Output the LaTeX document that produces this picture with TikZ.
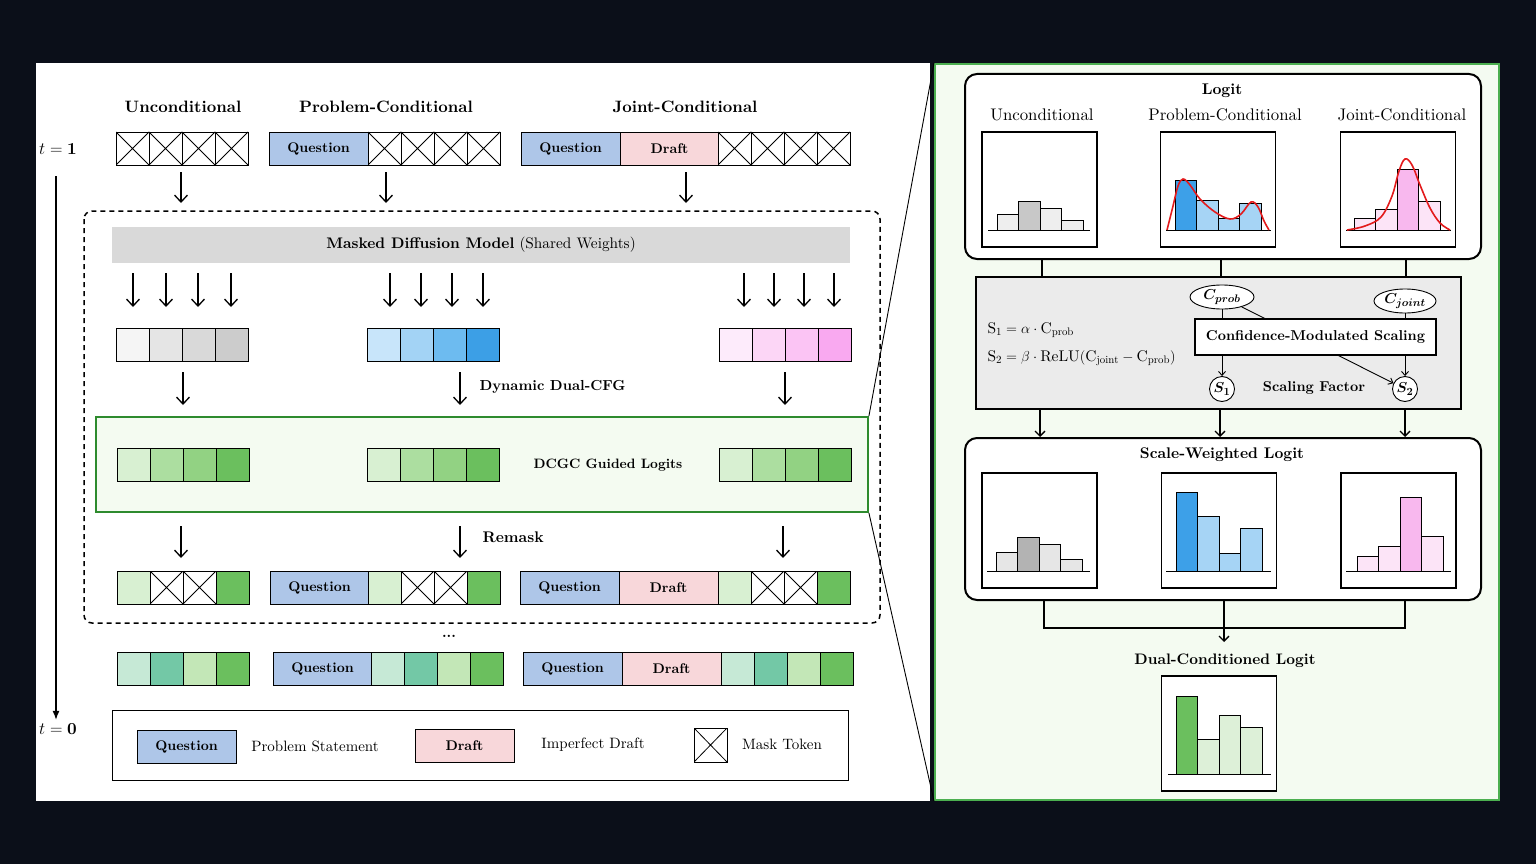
\documentclass[tikz,border=0pt]{standalone}
\usepackage{amsmath}
\usepackage{fontspec}
\setmainfont{lmroman10-regular.otf}[BoldFont=lmroman10-bold.otf, ItalicFont=lmroman10-italic.otf, BoldItalicFont=lmroman10-bolditalic.otf]
\usetikzlibrary{arrows.meta,positioning,calc,shapes.geometric}

\definecolor{bgdark}{HTML}{0B0F19}
\definecolor{qblue}{HTML}{AEC6E8}
\definecolor{dpink}{HTML}{F8D7DA}
\definecolor{barg}{HTML}{D9D9D9}
\definecolor{pfill}{HTML}{F4FBF1}
\definecolor{pgreen}{HTML}{4CAF50}
\definecolor{dgreen}{HTML}{2E8B2E}
\definecolor{confg}{HTML}{EBEBEB}
\definecolor{gy1}{HTML}{F5F5F5}
\definecolor{gy2}{HTML}{E5E5E5}
\definecolor{gy3}{HTML}{D9D9D9}
\definecolor{gy4}{HTML}{CCCCCC}
\definecolor{bl1}{HTML}{C8E5FA}
\definecolor{bl2}{HTML}{A3D3F5}
\definecolor{bl3}{HTML}{6DBBF0}
\definecolor{bl4}{HTML}{3C9FE6}
\definecolor{pk1}{HTML}{FDEBFB}
\definecolor{pk2}{HTML}{FCD6F6}
\definecolor{pk3}{HTML}{FBC4F4}
\definecolor{pk4}{HTML}{F9A9F0}
\definecolor{gn1}{HTML}{D8F0D2}
\definecolor{gn2}{HTML}{ACDEA0}
\definecolor{gn3}{HTML}{92D283}
\definecolor{gn4}{HTML}{6BBF5E}
\definecolor{fn1}{HTML}{C6E9D6}
\definecolor{fn2}{HTML}{73C8A6}
\definecolor{fn3}{HTML}{C3E7B7}
\definecolor{hgl}{HTML}{EEEEEE}
\definecolor{hgd}{HTML}{C8C8C8}
\definecolor{hsl}{HTML}{E6E6E6}
\definecolor{hsd}{HTML}{B3B3B3}
\definecolor{hbd}{HTML}{3DA0E8}
\definecolor{hbl}{HTML}{A6D4F5}
\definecolor{hpl}{HTML}{FCE4F7}
\definecolor{hpd}{HTML}{F8B8EE}
\definecolor{hdl}{HTML}{DDF0D8}
\definecolor{curvered}{HTML}{E31A1C}

\tikzset{
  cell/.style={draw, line width=0.9pt, minimum width=33pt, minimum height=33pt,
    inner sep=0pt, outer sep=0pt, anchor=north west},
  maskc/.style={cell, fill=white, path picture={
    \draw[line width=0.8pt] (path picture bounding box.south west) -- (path picture bounding box.north east)
      (path picture bounding box.north west) -- (path picture bounding box.south east);}},
  lgc/.style={cell, fill=gn1},
  dgc/.style={cell, fill=gn4},
  qbox/.style={cell, minimum width=99pt, fill=qblue, font=\fontsize{14}{17}\selectfont\bfseries},
  dbox/.style={qbox, fill=dpink},
  hdr/.style={font=\fontsize{16.5}{20}\selectfont\bfseries},
  lbl/.style={font=\fontsize{14.5}{17}\selectfont\bfseries},
  txt/.style={font=\fontsize{15}{18}\selectfont},
  sub/.style={font=\fontsize{16.8}{20}\selectfont},
  arr/.style={-{Straight Barb[length=7pt,width=13pt]}, line width=1.3pt},
  sarr/.style={-{Straight Barb[length=4pt,width=7pt]}, line width=0.9pt},
  rbox/.style={draw, fill=white, line width=2pt, rounded corners=12pt},
  hbox/.style={draw, fill=white, line width=1.3pt, minimum width=115pt, minimum height=115pt},
  bar/.style={draw, line width=0.9pt},
  base/.style={line width=1pt},
  curve/.style={curvered, line width=1.6pt},
}

\begin{document}
\begin{tikzpicture}[x=1pt, y=-1pt]
% panels
\fill[bgdark] (0,0) rectangle (1536,864);
\node[fill=white, minimum width=894pt, minimum height=738pt, inner sep=0pt] (lp) at (483,432) {};
\node[draw=pgreen, line width=2pt, fill=pfill, minimum width=564pt, minimum height=736pt, inner sep=0pt] (rp) at (1217,432) {};

% time axis
\node[sub] (t1) at (58,149) {$t = \mathbf{1}$};
\node[sub] (t0) at (58,729) {$t = \mathbf{0}$};
\draw[-{Latex[length=9pt,width=7pt]}, line width=1.3pt] ([xshift=-2pt,yshift=-18pt]t1.south) -- ([xshift=-2pt]t0.north);

% column titles
\node[hdr] at (183,107) {Unconditional};
\node[hdr] at (386,107) {Problem-Conditional};
\node[hdr] at (685,107) {Joint-Conditional};

% t = 1 inputs
\foreach \i in {0,...,3} \node[maskc] (ua\i) at (116+33*\i,132) {};
\node[qbox] (pq) at (269,132) {Question};
\foreach \i in {0,...,3} \node[maskc] (pa\i) at (368+33*\i,132) {};
\node[qbox] (jq) at (521,132) {Question};
\node[dbox] (jd) at (620,132) {Draft};
\foreach \i in {0,...,3} \node[maskc] (ja\i) at (718+33*\i,132) {};
\foreach \x in {181,386,686} \draw[arr] (\x,172) -- (\x,203);

% one denoising step
\draw[line width=1.5pt, dash pattern=on 5pt off 4pt, rounded corners=8pt] (84,211) rectangle (880,623);
\node[fill=barg, minimum width=738pt, minimum height=36pt, inner sep=0pt, font=\fontsize{15.3}{18}\selectfont] (mdm) at (481,245)
  {\textbf{Masked Diffusion Model} (Shared Weights)};
\foreach \x in {133,166,198,231,390,421,452,483,744,774,804,834} \draw[arr] (\x,273) -- (\x,307);

\foreach \c [count=\i from 0] in {gy1,gy2,gy3,gy4} \node[cell, fill=\c] (um\i) at (116+33*\i,328) {};
\foreach \c [count=\i from 0] in {bl1,bl2,bl3,bl4} \node[cell, fill=\c] (pm\i) at (367+33*\i,328) {};
\foreach \c [count=\i from 0] in {pk1,pk2,pk3,pk4} \node[cell, fill=\c] (jm\i) at (719+33*\i,328) {};
\foreach \x in {183,460,785} \draw[arr] (\x,372) -- (\x,405);
\node[lbl, anchor=west] (cfg) at (476,387) {Dynamic Dual-CFG};

\node[draw=dgreen, line width=1.8pt, fill=pfill, minimum width=772pt, minimum height=95pt, inner sep=0pt] (dcgc) at (482,464.5) {};
\foreach \c [count=\i from 0] in {gn1,gn2,gn3,gn4} {
  \node[cell, fill=\c] (ug\i) at (117+33*\i,448) {};
  \node[cell, fill=\c] (pg\i) at (367+33*\i,448) {};
  \node[cell, fill=\c] (jg\i) at (719+33*\i,448) {};
}
\node[lbl, font=\fontsize{13.6}{16}\selectfont\bfseries] (dgl) at (608,465) {DCGC Guided Logits};

\foreach \x in {181,460,783} \draw[arr] (\x,526) -- (\x,558);
\node[lbl, font=\fontsize{15.4}{18}\selectfont\bfseries, anchor=west] (rmk) at (479,537) {Remask};

\foreach \x/\s in {117/lgc,150/maskc,183/maskc,216/dgc} \node[\s] (ur\x) at (\x,571) {};
\node[qbox] (prq) at (270,571) {Question};
\foreach \x/\s in {368/lgc,401/maskc,434/maskc,467/dgc} \node[\s] (pr\x) at (\x,571) {};
\node[qbox] (jrq) at (520,571) {Question};
\node[dbox] (jrd) at (619,571) {Draft};
\foreach \x/\s in {718/lgc,751/maskc,784/maskc,817/dgc} \node[\s] (jr\x) at (\x,571) {};

% t = 0 outputs
\node[lbl] (dots) at (449,636) {...};
\foreach \c [count=\i from 0] in {fn1,fn2,fn3,gn4} \node[cell, fill=\c] (uf\i) at (117+33*\i,652) {};
\node[qbox] (pfq) at (273,652) {Question};
\foreach \c [count=\i from 0] in {fn1,fn2,fn3,gn4} \node[cell, fill=\c] (pf\i) at (371+33*\i,652) {};
\node[qbox] (jfq) at (523,652) {Question};
\node[dbox] (jfd) at (622,652) {Draft};
\foreach \c [count=\i from 0] in {fn1,fn2,fn3,gn4} \node[cell, fill=\c] (jf\i) at (721+33*\i,652) {};

% legend
\node[draw, line width=1.3pt, minimum width=736pt, minimum height=70pt, inner sep=0pt, anchor=north west] (leg) at (112,710) {};
\node[qbox] (lq) at (137,730) {Question};
\node[txt] (lqt) at (315,746) {Problem Statement};
\node[dbox] (ld) at (415,729) {Draft};
\node[txt] (ldt) at (593,745) {Imperfect Draft};
\node[maskc, minimum height=34pt] (lm) at (694,728) {};
\node[txt] (lmt) at (782,744) {Mask Token};

% zoom lines
\draw[line width=0.9pt] (dcgc.north east) -- (rp.north west);
\draw[line width=0.9pt] (dcgc.south east) -- (rp.south west);

% right panel: logits
\node[rbox, minimum width=516pt, minimum height=185pt] (logit) at (1223,166.5) {};
\node[lbl, font=\fontsize{15.5}{18}\selectfont\bfseries] at (1222,91) {Logit};
\node[sub] at (1042,115) {Unconditional};
\node[sub] at (1225,115) {Problem-Conditional};
\node[sub] at (1402,115) {Joint-Conditional};
\node[hbox] (hu) at (1039.5,189.5) {};
\node[hbox] (hp) at (1218,189.5) {};
\node[hbox] (hj) at (1398,189.5) {};
\foreach \x/\h/\c in {997/16/hgl,1018.5/29/hgd,1040/22/hgl,1061.5/10/hgl}
  \draw[bar, fill=\c] (\x,230) rectangle ++(21.5,-\h);
\draw[base] (988,230) -- (1090,230);
\foreach \x/\h/\c in {1175/50/hbd,1196.5/30/hbl,1218/12/hbl,1239.5/27/hbl}
  \draw[bar, fill=\c] (\x,230) rectangle ++(21.5,-\h);
\draw[base] (1166,230) -- (1271,230);
\draw[curve] plot[smooth, tension=0.6] coordinates {(1167,230) (1173,206) (1178,186) (1183,179)
  (1190,185) (1200,199) (1215,212) (1230,219) (1241,214) (1251,202) (1258,207) (1264,221) (1269,230)};
\foreach \x/\h/\c in {1354/12/hpl,1375.5/21/hpl,1397/61/hpd,1418.5/29/hpl}
  \draw[bar, fill=\c] (\x,230) rectangle ++(21.5,-\h);
\draw[base] (1346,230) -- (1451,230);
\draw[curve] plot[smooth, tension=0.6] coordinates {(1347,230) (1365,226) (1381,217) (1392,196)
  (1399,171) (1405,159) (1412,165) (1420,185) (1430,208) (1440,223) (1450,230)};

% confidence-modulated scaling
\node[draw, line width=1.8pt, fill=confg, minimum width=485pt, minimum height=132pt, inner sep=0pt] (conf) at (1218.5,343) {};
\foreach \x in {1042,1221,1406} \draw[line width=1.3pt] (\x,0 |- logit.south) -- (\x,0 |- conf.north);
\node[anchor=west, font=\fontsize{15.5}{19}\selectfont] (f1) at (984,330) {$\mathrm{S}_1 = \alpha \cdot \mathrm{C}_{\mathrm{prob}}$};
\node[anchor=west, font=\fontsize{15.5}{19}\selectfont] (f2) at (984,358) {$\mathrm{S}_2 = \beta \cdot \mathrm{ReLU}(\mathrm{C}_{\mathrm{joint}} - \mathrm{C}_{\mathrm{prob}})$};
\node[ellipse, draw, line width=0.9pt, fill=white, minimum width=64pt, minimum height=24pt, inner sep=0pt, txt] (cp) at (1222,297) {$\boldsymbol{C_{prob}}$};
\node[ellipse, draw, line width=0.9pt, fill=white, minimum width=62pt, minimum height=24pt, inner sep=0pt, txt] (cj) at (1405,301) {$\boldsymbol{C_{joint}}$};
\node[circle, draw, line width=0.9pt, fill=white, minimum size=25pt, inner sep=0pt, txt] (s1) at (1222,389) {$\boldsymbol{S_1}$};
\node[circle, draw, line width=0.9pt, fill=white, minimum size=25pt, inner sep=0pt, txt] (s2) at (1405,389) {$\boldsymbol{S_2}$};
\draw[sarr] (cp) -- (s1);
\draw[sarr] (cj) -- (s2);
\draw[sarr] (cp) -- (s2);
\node[draw, line width=1.3pt, fill=white, minimum width=241pt, minimum height=36pt, inner sep=0pt, font=\fontsize{14.3}{17}\selectfont\bfseries] (cms) at (1315.5,337) {Confidence-Modulated Scaling};
\node[font=\fontsize{14.3}{17}\selectfont\bfseries] (sf) at (1314,388) {Scaling Factor};

% scale-weighted logits
\node[rbox, minimum width=516pt, minimum height=162pt] (sw) at (1223,519) {};
\foreach \x in {1040,1220,1405} \draw[-{Straight Barb[length=5pt,width=10pt]}, line width=1.3pt] (\x,0 |- conf.south) -- (\x,0 |- sw.north);
\node[lbl, font=\fontsize{15.4}{18}\selectfont\bfseries] at (1222,455) {Scale-Weighted Logit};
\node[hbox] (su) at (1039.5,530.5) {};
\node[hbox] (sp) at (1219,530.5) {};
\node[hbox] (sj) at (1398.5,530.5) {};
\foreach \x/\h/\c in {996/19/hsl,1017.5/34/hsd,1039/27/hsl,1060.5/12/hsl}
  \draw[bar, fill=\c] (\x,571) rectangle ++(21.5,-\h);
\draw[base] (987,571) -- (1090,571);
\foreach \x/\h/\c in {1176/79/hbd,1197.5/55/hbl,1219/18/hbl,1240.5/43/hbl}
  \draw[bar, fill=\c] (\x,571) rectangle ++(21.5,-\h);
\draw[base] (1166,571) -- (1271,571);
\foreach \x/\h/\c in {1357/15/hpl,1378.5/25/hpl,1400/74/hpd,1421.5/35/hpl}
  \draw[bar, fill=\c] (\x,571) rectangle ++(21.5,-\h);
\draw[base] (1346,571) -- (1451,571);

% dual-conditioned logit
\draw[line width=1.3pt] (1044,0 |- sw.south) |- (1405,628) -- (1405,0 |- sw.south);
\draw[-{Straight Barb[length=5pt,width=10pt]}, line width=1.3pt] (1224,0 |- sw.south) -- (1224,642);
\node[lbl, font=\fontsize{15.2}{18}\selectfont\bfseries] at (1225,661) {Dual-Conditioned Logit};
\node[hbox] (du) at (1219,733.5) {};
\foreach \x/\h/\c in {1176/78/gn4,1197.5/35/hdl,1219/59/hdl,1240.5/47/hdl}
  \draw[bar, fill=\c] (\x,774) rectangle ++(21.5,-\h);
\draw[base] (1168,774) -- (1271,774);
\end{tikzpicture}
\end{document}
